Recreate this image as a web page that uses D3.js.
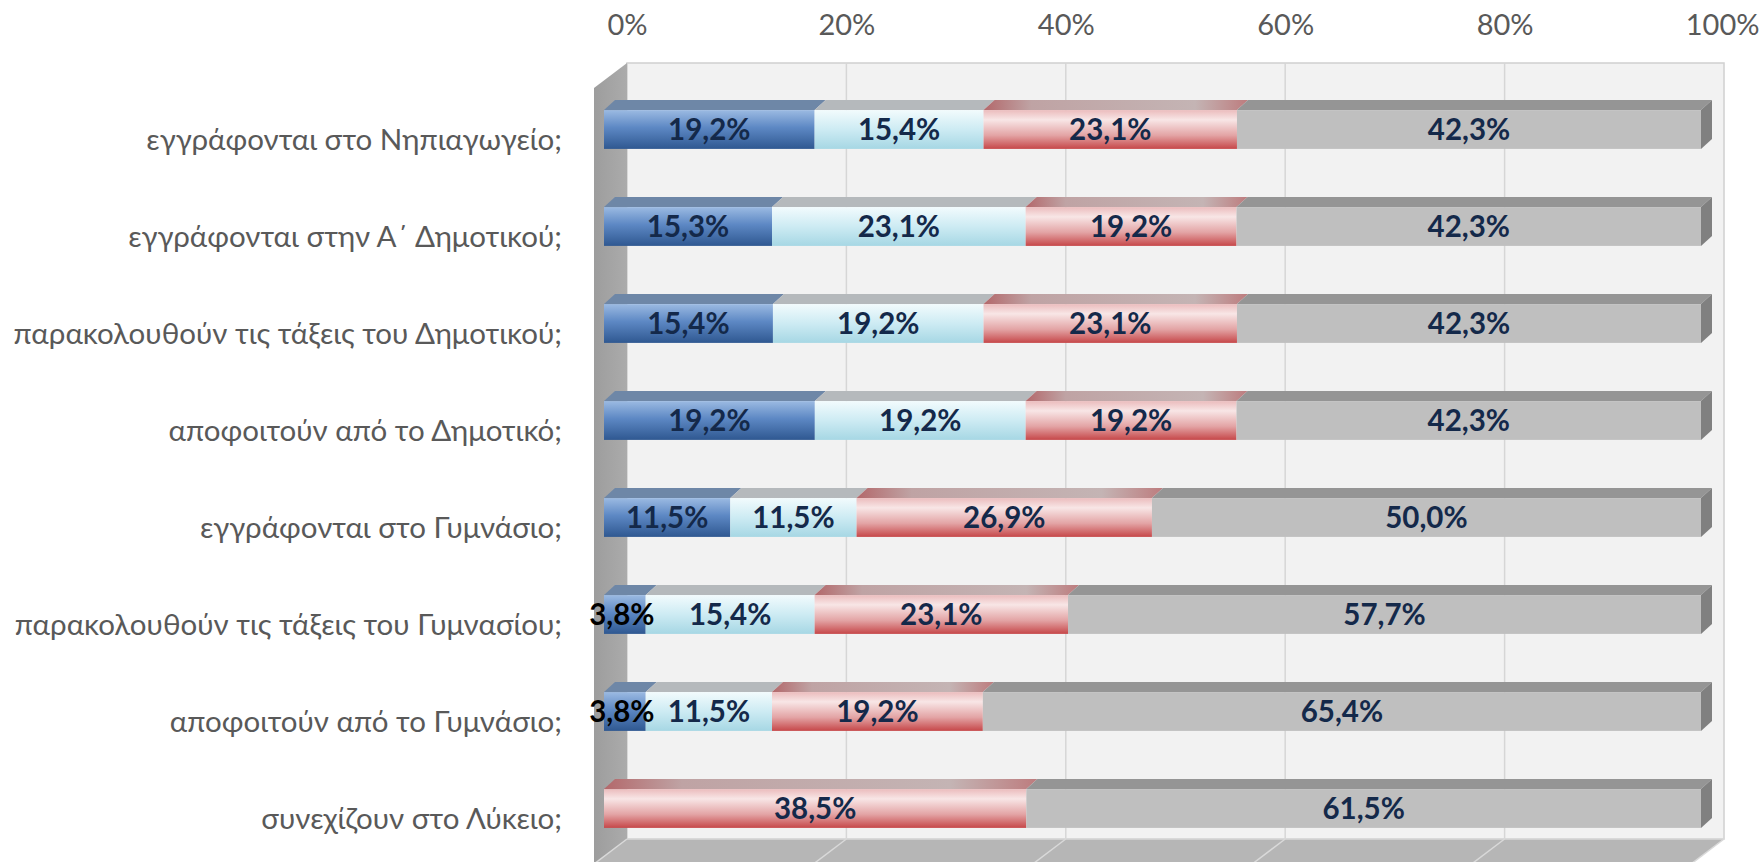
<!DOCTYPE html>
<html>
<head>
<meta charset="utf-8">
<script src="https://cdn.jsdelivr.net/npm/d3@7"></script>
<style>
  html, body { margin: 0; padding: 0; background: #ffffff; }
  svg { display: block; }
</style>
</head>
<body>
<svg id="chart" width="1761" height="862"></svg>
<script>
// ---------------- data ----------------
const categories = [
  "εγγράφονται στο Νηπιαγωγείο;",
  "εγγράφονται στην Α΄ Δημοτικού;",
  "παρακολουθούν τις τάξεις του Δημοτικού;",
  "αποφοιτούν από το Δημοτικό;",
  "εγγράφονται στο Γυμνάσιο;",
  "παρακολουθούν τις τάξεις του Γυμνασίου;",
  "αποφοιτούν από το Γυμνάσιο;",
  "συνεχίζουν στο Λύκειο;"
];
const seriesKeys = ["s1", "s2", "s3", "s4"];
const series1 = [19.2, 15.3, 15.4, 19.2, 11.5, 3.8, 3.8, 0];
const series2 = [15.4, 23.1, 19.2, 19.2, 11.5, 15.4, 11.5, 0];
const series3 = [23.1, 19.2, 23.1, 19.2, 26.9, 23.1, 19.2, 38.5];
const series4 = [42.3, 42.3, 42.3, 42.3, 50.0, 57.7, 65.4, 61.5];
const tickValues = [0, 0.2, 0.4, 0.6, 0.8, 1.0];

// ---------------- layout ----------------
const svg = d3.select("#chart");
const defs = svg.append("defs");

const wall = { x0: 627, x1: 1724, yTop: 63, yBot: 839, dx: 33, dy: 25 };
const barOff = { dx: -23, dy: 18 };      // bar front relative to back wall
const barDepth = { dx: 11, dy: -10 };    // top face depth

const rows = categories.map((c, i) => ({
  cat: c, s1: series1[i], s2: series2[i], s3: series3[i], s4: series4[i]
}));
const stacked = d3.stack().keys(seriesKeys).offset(d3.stackOffsetExpand)(rows);

const xBack = d3.scaleLinear().domain([0, 1]).range([wall.x0, wall.x1]);
const xFront = d3.scaleLinear().domain([0, 1]).range([wall.x0 + barOff.dx, wall.x1 + barOff.dx]);
const yBand = d3.scaleBand().domain(categories).range([wall.yTop, wall.yBot])
  .paddingInner(0.6).paddingOuter(0.3);
const yFront = c => yBand(c) + barOff.dy;

// ---------------- gradients ----------------
function vGrad(id, stops) {
  const g = defs.append("linearGradient").attr("id", id)
    .attr("x1", 0).attr("y1", 0).attr("x2", 0).attr("y2", 1);
  stops.forEach(s => g.append("stop").attr("offset", s[0]).attr("stop-color", s[1]));
}
function hGrad(id, stops) {
  const g = defs.append("linearGradient").attr("id", id)
    .attr("x1", 0).attr("y1", 0).attr("x2", 1).attr("y2", 0);
  stops.forEach(s => g.append("stop").attr("offset", s[0]).attr("stop-color", s[1]));
}
vGrad("gBlue", [[0, "#9bbae2"], [0.45, "#5d88c4"], [1, "#2f5891"]]);
vGrad("gCyan", [[0, "#f2fbfd"], [0.5, "#cdebf3"], [1, "#a6d7e4"]]);
vGrad("gRed", [[0, "#ebbcbd"], [0.25, "#f8e6e6"], [0.65, "#e3a4a5"], [1, "#c64749"]]);
vGrad("gGray", [[0, "#bfbfbf"], [1, "#bfbfbf"]]);
hGrad("gRedTop", [[0, "#b3686b"], [0.18, "#bfa3a4"], [0.8, "#c4b4b4"], [1, "#bd7c7e"]]);
hGrad("gSide", [[0, "#9d9d9d"], [1, "#ababab"]]);

const frontFill = { s1: "url(#gBlue)", s2: "url(#gCyan)", s3: "url(#gRed)", s4: "url(#gGray)" };
const topFill = { s1: "#6e87a7", s2: "#b5b9bc", s3: "url(#gRedTop)", s4: "#959595" };

// ---------------- walls ----------------
const fx = x => x - wall.dx, fy = y => y + wall.dy;

// back wall
svg.append("rect")
  .attr("x", wall.x0).attr("y", wall.yTop)
  .attr("width", wall.x1 - wall.x0).attr("height", wall.yBot - wall.yTop)
  .attr("fill", "#f2f2f2").attr("stroke", "#d0d0d0").attr("stroke-width", 1.5);

// side wall
svg.append("path")
  .attr("d", `M${fx(wall.x0)},${fy(wall.yTop)} L${wall.x0},${wall.yTop} L${wall.x0},${wall.yBot} L${fx(wall.x0)},${fy(wall.yBot)} Z`)
  .attr("fill", "url(#gSide)");

// floor
svg.append("path")
  .attr("d", `M${wall.x0},${wall.yBot} L${wall.x1},${wall.yBot} L${fx(wall.x1)},${fy(wall.yBot)} L${fx(wall.x0)},${fy(wall.yBot)} Z`)
  .attr("fill", "#b6b6b6");

// gridlines (back wall + floor)
const grid = svg.append("g");
grid.selectAll("line.v").data(tickValues.slice(1, -1)).join("line")
  .attr("x1", d => xBack(d)).attr("x2", d => xBack(d))
  .attr("y1", wall.yTop).attr("y2", wall.yBot)
  .attr("stroke", "#d6d6d6").attr("stroke-width", 1.5);
grid.selectAll("line.f").data(tickValues.slice(0, -1).concat([1])).join("line")
  .attr("x1", d => xBack(d)).attr("x2", d => fx(xBack(d)))
  .attr("y1", wall.yBot).attr("y2", fy(wall.yBot))
  .attr("stroke", "#d9d9d9").attr("stroke-width", 1.5);
svg.append("line")
  .attr("x1", wall.x0).attr("x2", wall.x1).attr("y1", wall.yBot).attr("y2", wall.yBot)
  .attr("stroke", "#d9d9d9").attr("stroke-width", 1.5);

// ---------------- bars ----------------
const bh = yBand.bandwidth();
const barsG = svg.append("g");
stacked.forEach(layer => {
  const key = layer.key;
  const g = barsG.append("g");
  layer.forEach(seg => {
    const c = seg.data.cat;
    const x0 = xFront(seg[0]), x1 = xFront(seg[1]);
    if (x1 - x0 <= 0.01) return;
    const y = yFront(c);
    // top face
    g.append("path")
      .attr("d", `M${x0},${y} L${x1},${y} L${x1 + barDepth.dx},${y + barDepth.dy} L${x0 + barDepth.dx},${y + barDepth.dy} Z`)
      .attr("fill", topFill[key]);
    // front face
    g.append("rect").attr("x", x0).attr("y", y).attr("width", x1 - x0).attr("height", bh)
      .attr("fill", frontFill[key]);
    // right end face
    if (seg[1] >= 0.999) {
      g.append("path")
        .attr("d", `M${x1},${y} L${x1 + barDepth.dx},${y + barDepth.dy} L${x1 + barDepth.dx},${y + bh + barDepth.dy} L${x1},${y + bh} Z`)
        .attr("fill", "#808080");
    }
  });
});

// ---------------- data labels ----------------
const fmt = v => d3.format(".1f")(v).replace(".", ",") + "%";
const labelsG = svg.append("g")
  .attr("font-family", "Lato, 'Noto Sans', sans-serif")
  .attr("font-weight", "bold").attr("font-size", 29.5);
stacked.forEach((layer, li) => {
  const vals = [series1, series2, series3, series4][li];
  layer.forEach((seg, i) => {
    const v = vals[i];
    if (!v) return;
    const small = v < 5;
    labelsG.append("text")
      .attr("x", (xFront(seg[0]) + xFront(seg[1])) / 2 - (small ? 3 : 0))
      .attr("y", yFront(seg.data.cat) + bh / 2)
      .attr("dy", "0.35em")
      .attr("text-anchor", "middle")
      .attr("fill", small ? "#000000" : "#14294a")
      .text(fmt(v));
  });
});

// ---------------- axes ----------------
const topAxis = svg.append("g").attr("transform", "translate(0,25)")
  .call(d3.axisTop(xBack).tickValues(tickValues).tickFormat(d3.format(".0%")).tickSize(0));
topAxis.select(".domain").remove();
topAxis.selectAll("text")
  .attr("y", 0).attr("dy", "0.35em")
  .attr("font-family", "Lato, 'Noto Sans', sans-serif").attr("font-size", 29)
  .attr("fill", "#595959");
// keep the last label inside the picture (it sits at the right edge)
topAxis.selectAll(".tick").filter(d => d === 1).select("text")
  .attr("text-anchor", "end").attr("x", 1759 - xBack(1));

const yLabel = yBand.copy().range([wall.yTop + barOff.dy + 11, wall.yBot + barOff.dy + 11]);
const leftAxis = svg.append("g").attr("transform", "translate(562,0)")
  .call(d3.axisLeft(yLabel).tickSize(0).tickPadding(0));
leftAxis.select(".domain").remove();
leftAxis.selectAll("text")
  .attr("font-family", "Lato, 'Noto Sans', sans-serif").attr("font-size", 29.5)
  .attr("fill", "#595959");
</script>
</body>
</html>
